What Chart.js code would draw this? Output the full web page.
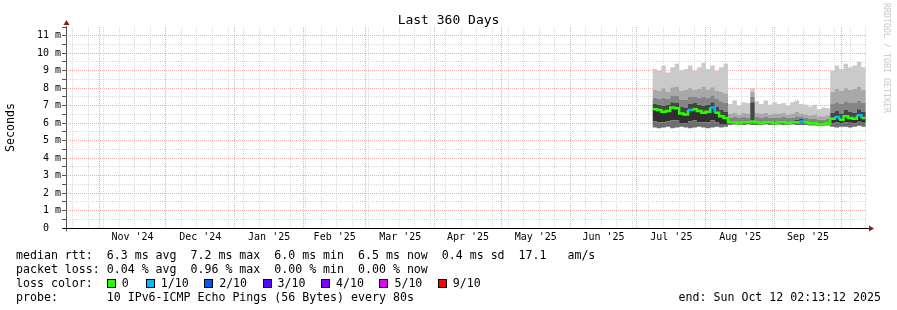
<!DOCTYPE html>
<html><head><meta charset="utf-8">
<script src="https://cdn.jsdelivr.net/npm/chart.js@4/dist/chart.umd.min.js"></script>
<style>
html,body{margin:0;padding:0;background:#fff;}
#wrap{position:relative;width:897px;height:310px;overflow:hidden;font-family:'DejaVu Sans Mono',monospace;color:#000;background:#fff;}
#c{position:absolute;left:0;top:0;}
.t{position:absolute;white-space:pre;font-size:11.6px;line-height:14px;}
.box{display:inline-block;width:7px;height:7px;border:1px solid #000;vertical-align:-1px;margin-right:6px;}
.lab{margin-right:15.5px;}
#title{position:absolute;left:0;width:897px;text-align:center;top:12px;font-size:13px;line-height:16px;}
#wm{position:absolute;left:892px;top:3px;font-size:8.3px;line-height:10px;color:#c8c8c8;white-space:pre;transform-origin:0 0;transform:rotate(90deg);}
</style></head>
<body>
<div id="wrap">
<canvas id="c" width="897" height="310"></canvas>
<div id="title">Last 360 Days</div>
<div id="wm">RRDTOOL / TOBI OETIKER</div>
<div class="t" style="left:16px;top:248px">median rtt:  6.3 ms avg  7.2 ms max  6.0 ms min  6.5 ms now  0.4 ms sd  17.1   am/s</div>
<div class="t" style="left:16px;top:262px">packet loss: 0.04 % avg  0.96 % max  0.00 % min  0.00 % now</div>
<div class="t" id="lossline" style="left:16px;top:276px">loss color:  </div>
<div class="t" style="left:16px;top:290px">probe:       10 IPv6-ICMP Echo Pings (56 Bytes) every 80s</div>
<div class="t" style="right:16px;top:290px">end: Sun Oct 12 02:13:12 2025</div>
</div>
<script>
// ---- data (values in milliseconds) ----
const days = ['07-08','07-10','07-12','07-14','07-16','07-18','07-20','07-22','07-24','07-26','07-28','07-30',
  '08-01','08-03','08-05','08-07','08-09','08-11','08-13','08-15','08-17','08-19','08-21','08-23','08-25','08-27','08-29','08-31',
  '09-02','09-04','09-06','09-08','09-10','09-12','09-14','09-16','09-18','09-20','09-22','09-24','09-26','09-28','09-30',
  '10-02','10-04','10-06','10-08','10-10','10-12'];
const medianRtt = [6.80,6.75,6.65,6.70,6.90,6.85,6.55,6.50,6.75,6.80,6.70,6.60,6.65,6.90,6.60,6.40,6.30,
  6.05,6.05,6.00,6.05,6.05,6.10,6.05,6.00,6.05,6.05,6.00,6.05,6.05,6.00,6.05,6.05,6.10,6.05,6.00,6.00,5.95,5.95,6.00,
  6.25,6.35,6.20,6.40,6.30,6.25,6.45,6.30,6.35];
const pingMin = [5.75,5.70,5.75,5.80,5.70,5.75,5.80,5.75,5.70,5.75,5.80,5.75,5.70,5.75,5.80,5.75,5.80,
  5.90,5.92,5.90,5.90,5.92,5.90,5.90,5.90,5.92,5.90,5.90,5.92,5.90,5.90,5.92,5.90,5.90,5.90,5.87,5.87,5.85,5.85,5.87,
  5.80,5.75,5.80,5.80,5.75,5.80,5.85,5.80,5.80];
const pingLow = [6.10,6.05,6.05,6.10,6.15,6.15,6.00,6.00,6.10,6.15,6.05,6.05,6.05,6.15,6.05,5.95,5.95,
  5.97,5.97,5.95,5.97,5.97,5.98,5.97,5.95,5.97,5.97,5.95,5.97,5.97,5.95,5.97,5.97,5.98,5.97,5.93,5.93,5.90,5.90,5.93,
  6.00,6.05,5.98,6.05,6.02,6.00,6.08,6.02,6.05];
const pingHigh1 = [7.10,7.05,7.00,7.05,7.20,7.15,6.95,6.90,7.10,7.15,7.05,7.00,7.05,7.20,6.95,6.75,6.65,
  6.15,6.15,6.10,6.15,6.15,7.20,6.15,6.10,6.15,6.15,6.10,6.15,6.15,6.10,6.15,6.20,6.25,6.15,6.10,6.10,6.05,6.05,6.10,
  6.60,6.70,6.55,6.75,6.65,6.60,6.80,6.65,6.70];
const pingHigh2 = [7.45,7.40,7.45,7.40,7.55,7.55,7.35,7.35,7.50,7.50,7.45,7.50,7.45,7.60,7.40,7.25,7.15,
  6.30,6.35,6.30,6.35,6.30,7.50,6.35,6.30,6.35,6.30,6.30,6.30,6.35,6.30,6.30,6.40,6.35,6.30,6.25,6.25,6.20,6.20,6.25,
  7.10,7.20,7.10,7.25,7.15,7.15,7.30,7.15,7.20];
const pingHigh3 = [7.90,7.85,8.00,7.80,8.05,8.10,7.85,7.90,8.00,7.90,7.95,8.10,7.90,8.05,7.85,7.80,7.70,
  6.55,6.60,6.50,6.60,6.55,7.80,6.60,6.55,6.60,6.50,6.55,6.55,6.60,6.50,6.55,6.65,6.55,6.50,6.45,6.50,6.40,6.40,6.45,
  7.80,7.95,7.85,8.00,7.90,7.95,8.10,7.90,7.95];
const pingMax = [9.10,9.00,9.30,8.90,9.20,9.40,9.00,9.10,9.30,9.00,9.20,9.45,9.10,9.30,9.00,9.20,9.40,
  7.10,7.30,7.00,7.20,7.15,8.00,7.25,7.10,7.30,7.05,7.20,7.10,7.15,7.00,7.20,7.30,7.10,7.05,6.95,7.05,6.80,6.90,6.85,
  9.00,9.30,9.10,9.40,9.20,9.30,9.50,9.20,9.30];
const lossTenths = [0,0,0,0,0,0,0,0,1,0,0,0,0,1,0,0,0,
  0,0,0,0,0,0,0,0,0,0,0,0,0,0,0,0,1,0,0,0,0,0,0,
  0,1,0,0,0,0,1,0,0];

const lossLegend = ['0','1/10','2/10','3/10','4/10','5/10','9/10'];
const lossColors = ['#26ff00','#00b8ff','#0059ff','#5e00ff','#7e00ff','#dd00ff','#ff0000'];

const monthStarts = ['2024-11-01','2024-12-01','2025-01-01','2025-02-01','2025-03-01','2025-04-01',
  '2025-05-01','2025-06-01','2025-07-01','2025-08-01','2025-09-01','2025-10-01'];
const monthLabels = ["Nov '24","Dec '24","Jan '25","Feb '25","Mar '25","Apr '25","May '25","Jun '25","Jul '25","Aug '25","Sep '25"];
const yLabels = ['0','1 m','2 m','3 m','4 m','5 m','6 m','7 m','8 m','9 m','10 m','11 m'];

const START = Date.UTC(2024,9,17,2,13,12);
const END = Date.UTC(2025,9,12,2,13,12);
const DAY = 86400000;
const FIRST_WEEK = Date.UTC(2024,9,20);

// ---- legend boxes ----
const ll = document.getElementById('lossline');
lossLegend.forEach((t,i)=>{
  const b = document.createElement('span'); b.className='box'; b.style.background=lossColors[i]; ll.appendChild(b);
  const s = document.createElement('span'); s.className='lab'; s.textContent=t; if(i===0) s.style.marginRight='17px'; ll.appendChild(s);
});

// ---- ticks ----
const xTicks = [];
for (let v = FIRST_WEEK; v < END; v += 7*DAY) xTicks.push({value:v, kind:'w'});
const ms = monthStarts.map(d=>Date.parse(d));
ms.forEach(v=>xTicks.push({value:v, kind:'m'}));
monthLabels.forEach((l,i)=>xTicks.push({value:(ms[i]+ms[i+1])/2, kind:'l', text:l}));
xTicks.sort((a,b)=>a.value-b.value);
const yTicks = [];
for (let i = 0; i <= 23; i++) yTicks.push({value:i/2});

const xs = days.map(d=>Date.parse('2025-'+d));
const pts = arr => arr.map((y,i)=>({x:xs[i], y}));
const band = (arr, color, fill) => ({data:pts(arr), backgroundColor:color, borderWidth:0, pointRadius:0,
  stepped:true, fill:fill, order:1});

const MINOR = '#dadada', MAJOR = '#f0acac';
Chart.defaults.font.family = "'DejaVu Sans Mono', monospace";
Chart.defaults.color = '#000';

const axesPlugin = {
  id:'axes',
  afterDraw(chart){
    const {ctx, chartArea:a} = chart;
    ctx.save();
    const x0 = Math.round(a.left)+0.5, y0 = Math.round(a.bottom)+0.5;
    ctx.lineWidth = 1;
    ctx.strokeStyle = '#555';
    ctx.beginPath(); ctx.moveTo(x0, y0+3); ctx.lineTo(x0, a.top-1); ctx.stroke();
    ctx.strokeStyle = '#000';
    ctx.beginPath(); ctx.moveTo(x0-4, y0); ctx.lineTo(a.right+3, y0); ctx.stroke();
    ctx.fillStyle = '#8c1c1c';
    ctx.beginPath(); ctx.moveTo(x0-3, a.top-2); ctx.lineTo(x0+3, a.top-2); ctx.lineTo(x0, a.top-7); ctx.closePath(); ctx.fill();
    ctx.beginPath(); ctx.moveTo(a.right+3, y0-3); ctx.lineTo(a.right+3, y0+3); ctx.lineTo(a.right+8, y0); ctx.closePath(); ctx.fill();
    ctx.restore();
  }
};

new Chart(document.getElementById('c'), {
  type:'line',
  data:{datasets:[
    band(pingMin, 'rgba(0,0,0,0)', false),
    band(pingLow, '#6e6e6e', '-1'),
    band(medianRtt, '#303030', '-1'),
    band(pingHigh1, '#454545', '-1'),
    band(pingHigh2, '#858585', '-1'),
    band(pingHigh3, '#a8a8a8', '-1'),
    band(pingMax, '#cacaca', '-1'),
    {data:pts(medianRtt), stepped:true, fill:false, pointRadius:0, borderWidth:2.5, order:0,
     borderColor:lossColors[0],
     segment:{borderColor: c => lossColors[lossTenths[c.p0DataIndex]]}}
  ]},
  options:{
    responsive:false, animation:false, devicePixelRatio:1,
    layout:{padding:{left:0, right:31, top:27, bottom:62}},
    plugins:{legend:{display:false}, tooltip:{enabled:false}},
    scales:{
      x:{type:'linear', min:START, max:END, bounds:'data',
        afterBuildTicks: s => { s.ticks = xTicks.map(t=>Object.assign({}, t)); },
        afterFit: s => { s.height = 20; },
        ticks:{autoSkip:false, maxRotation:0, minRotation:0, padding:3, font:{size:10},
          callback:(v,i,ticks)=> ticks[i].kind==='l' ? ticks[i].text : ''},
        grid:{drawTicks:false, lineWidth:1,
          color: c => c.tick ? (c.tick.kind==='m' ? MAJOR : (c.tick.kind==='w' ? MINOR : 'rgba(0,0,0,0)')) : MINOR},
        border:{display:false, dash:[1,1]}
      },
      y:{type:'linear', min:0, max:11.5,
        afterBuildTicks: s => { s.ticks = yTicks.map(t=>Object.assign({}, t)); },
        afterFit: s => { s.width = 66; },
        title:{display:true, text:'Seconds', font:{size:11.6}, padding:{top:4, bottom:0}},
        ticks:{autoSkip:false, padding:1, font:{size:10},
          callback:(v)=> { if (Number.isInteger(v)) { const l = yLabels[v]; return l.length < 3 ? l + '  ' : l; } return ''; }},
        grid:{drawTicks:true, tickLength:4, tickColor:'#555', lineWidth:1,
          color: c => { const v = c.tick ? c.tick.value : 0; if (v === 0 || v === 11.5) return 'rgba(0,0,0,0)'; return Number.isInteger(v) ? MAJOR : MINOR; }},
        border:{display:false, dash:[1,1]}
      }
    }
  },
  plugins:[axesPlugin]
});
</script>
</body></html>
